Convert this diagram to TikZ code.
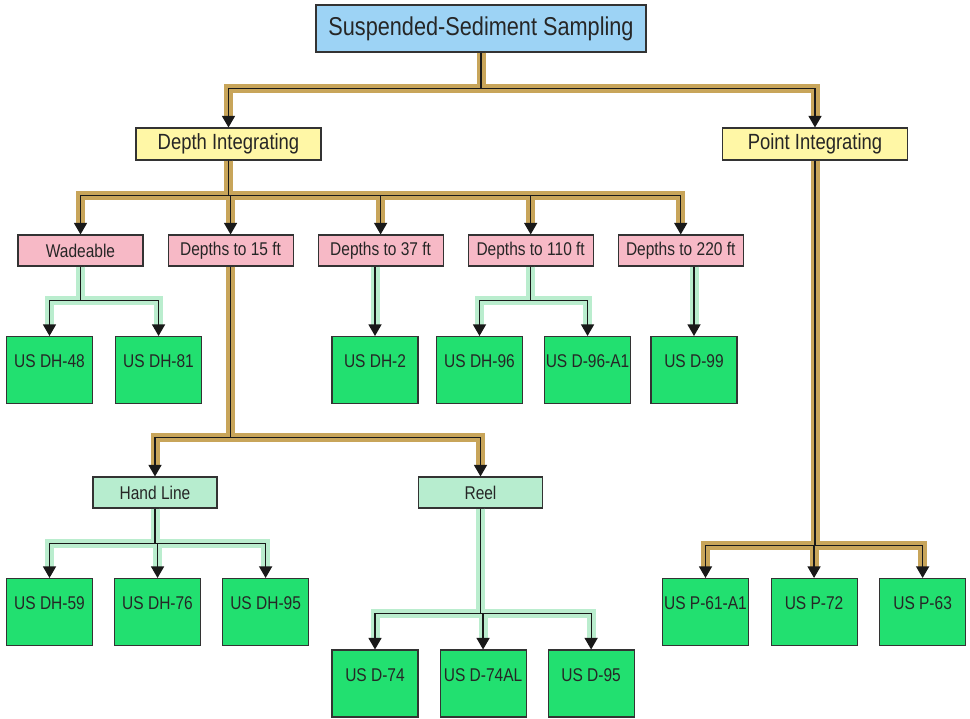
\documentclass[tikz,border=0pt]{standalone}
\usepackage{fontspec}
\setmainfont{Liberation Sans}[FakeStretch=0.84]
\usepackage{tikz}
\usetikzlibrary{positioning}
\usetikzlibrary{arrows.meta,calc}
\definecolor{topblue}{HTML}{9DD3F5}
\definecolor{midyellow}{HTML}{FFF7A6}
\definecolor{depthpink}{HTML}{F7B9C6}
\definecolor{mint}{HTML}{B7EDCF}
\definecolor{leafgreen}{HTML}{22E070}
\definecolor{gold}{HTML}{C8A55A}
\definecolor{bandgreen}{HTML}{BAEDCE}
\tikzset{line/.style={draw=black!90, line width=0.7pt, -{Triangle[width=0.26cm,length=0.23cm]}}}
\tikzset{band/.style={draw=#1, line width=0.18cm, shorten >=0.2cm}}

\begin{document}
\begin{tikzpicture}
\tikzstyle{box} = [rectangle, draw=black!80, line width=0.6pt, inner sep=0pt, text=black!85]
\tikzstyle{topbox} = [box, fill=topblue, minimum width=6.6cm, minimum height=0.94cm, font=\fontsize{14.7}{16}\selectfont]
\tikzstyle{midbox} = [box, fill=midyellow, minimum width=3.7cm, minimum height=0.64cm, font=\fontsize{12.5}{14}\selectfont]
\tikzstyle{pinkbox} = [box, fill=depthpink, minimum width=2.5cm, minimum height=0.62cm, font=\fontsize{10.5}{12}\selectfont]
\tikzstyle{mintbox} = [box, fill=mint, minimum width=2.48cm, minimum height=0.62cm, font=\fontsize{10.5}{12}\selectfont]
\tikzstyle{leaf} = [box, fill=leafgreen, minimum width=1.72cm, text height=0.62cm, text depth=0.72cm, font=\fontsize{10.5}{12}\selectfont]

\useasboundingbox (0,0) rectangle (19.4,-14.38);

% blocks
    \node [topbox] (sss) at (9.62,-0.57) {Suspended-Sediment Sampling};
    \node [midbox] (dint) at (4.57,-2.88) {Depth Integrating};
    \node [midbox] (pint) at (16.3,-2.88) {Point Integrating};
    \node [pinkbox] (wade) at (1.61,-5.01) {Wadeable};
    \node [pinkbox, right=0.48cm of wade] (d15) {Depths to 15 ft};
    \node [pinkbox, right=0.48cm of d15] (d37) {Depths to 37 ft};
    \node [pinkbox, right=0.48cm of d37] (d110) {Depths to 110 ft};
    \node [pinkbox, right=0.48cm of d110] (d220) {Depths to 220 ft};
    \node [leaf] (dh48) at (0.99,-7.4) {US DH-48};
    \node [leaf, right=0.44cm of dh48] (dh81) {US DH-81};
    \node [leaf] (dh2) at (7.5,-7.4) {US DH-2};
    \node [leaf] (dh96) at (9.59,-7.4) {US DH-96};
    \node [leaf, right=0.42cm of dh96] (d96a1) {US D-96-A1};
    \node [leaf] (d99) at (13.88,-7.4) {US D-99};
    \node [mintbox] (hand) at (3.1,-9.85) {Hand Line};
    \node [mintbox] (reel) at (9.61,-9.85) {Reel};
    \node [leaf] (dh59) at (0.99,-12.24) {US DH-59};
    \node [leaf, right=0.42cm of dh59] (dh76) {US DH-76};
    \node [leaf, right=0.42cm of dh76] (dh95) {US DH-95};
    \node [leaf] (p61) at (14.11,-12.24) {US P-61-A1};
    \node [leaf, right=0.43cm of p61] (p72) {US P-72};
    \node [leaf, right=0.43cm of p72] (p63) {US P-63};
    \node [leaf] (d74) at (7.5,-13.67) {US D-74};
    \node [leaf, right=0.42cm of d74] (d74al) {US D-74AL};
    \node [leaf, right=0.42cm of d74al] (d95) {US D-95};
% arrows (from / to / drop / band colour)
    \def\links{sss.south/dint/0.72/gold, sss.south/pint/0.72/gold,
      dint.south/wade/0.7/gold, dint.south/d15/0.7/gold, dint.south/d37/0.7/gold,
      dint.south/d110/0.7/gold, dint.south/d220/0.7/gold,
      d15.south/hand/3.42/gold, d15.south/reel/3.42/gold,
      pint.south/p61/7.7/gold, pint.south/p72/7.7/gold, pint.south/p63/7.7/gold,
      wade.south/dh48/0.68/bandgreen, wade.south/dh81/0.68/bandgreen,
      dh2.north |- d37.south/dh2/0/bandgreen,
      d110.south/dh96/0.68/bandgreen, d110.south/d96a1/0.68/bandgreen,
      d99.north |- d220.south/d99/0/bandgreen,
      hand.south/dh59/0.7/bandgreen, hand.south/dh76/0.7/bandgreen, hand.south/dh95/0.7/bandgreen,
      reel.south/d74/2.1/bandgreen, reel.south/d74al/2.1/bandgreen, reel.south/d95/2.1/bandgreen}
    \foreach \p/\c/\d/\col in \links
      \path [band=\col] (\p) -- ++(0,-\d) -| (\c.north);
    \foreach \p/\c/\d/\col in \links
      \path [line] (\p) -- ++(0,-\d) -| (\c.north);
\end{tikzpicture}
\end{document}
